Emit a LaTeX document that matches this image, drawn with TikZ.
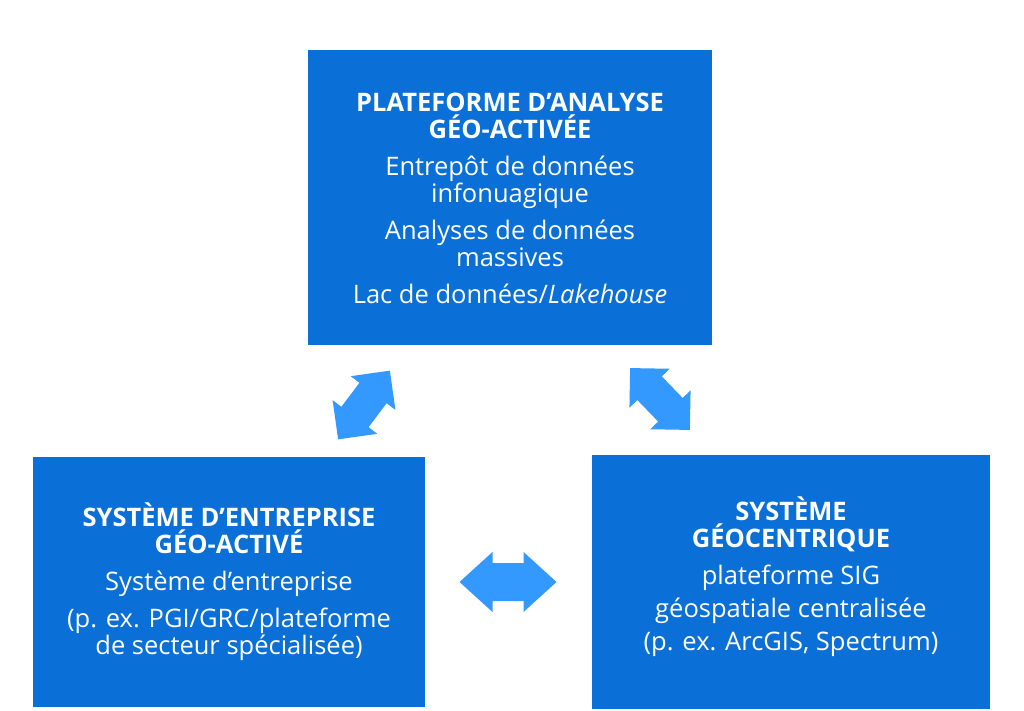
\documentclass[tikz,border=0pt]{standalone}
\usepackage{fontspec}
\setmainfont{Open Sans}
\definecolor{boxblue}{HTML}{0A6FD6}
\definecolor{arrblue}{HTML}{3399FF}
\tikzset{
  box/.style={fill=boxblue, draw=none},
  txt/.style={text=white, align=center, font=\fontsize{25.5}{27}\selectfont},
  arr/.style={fill=arrblue, draw=none}
}
\begin{document}
\begin{tikzpicture}[x=1pt,y=-1pt]
\useasboundingbox (0,0) rectangle (1024,711);
\fill[white] (0,0) rectangle (1024,711);
\path[box] (308,50) rectangle (712,345);
\path[box] (33,457) rectangle (425,707);
\path[box] (592,455) rectangle (990,709);
\node[txt] (t) at (510,198) {\textbf{PLATEFORME D’ANALYSE}\\ \textbf{GÉO-ACTIVÉE}\\[10pt]
Entrepôt de données\\ infonuagique\\[10pt] Analyses de données\\ massives\\[10pt] Lac de données/\textit{Lakehouse}};
\node[txt] (l) at (229,582) {\textbf{SYSTÈME D’ENTREPRISE}\\ \textbf{GÉO-ACTIVÉ}\\[10pt]
Système d’entreprise\\[10pt] (p. ex. PGI/GRC/plateforme\\ de secteur spécialisée)};
\node[txt] (r) at (791,577) {\textbf{SYSTÈME}\\ \textbf{GÉOCENTRIQUE}\\[10pt]
plateforme SIG\\[6pt] géospatiale centralisée\\[6pt] (p. ex. ArcGIS, Spectrum)};
\begin{scope}[shift={(364,405)}, rotate=53]
\path[arr] (-43,0)--(-15,-28)--(-15,-17)--(15,-17)--(15,-28)--(43,0)--(15,28)--(15,17)--(-15,17)--(-15,28)--cycle;
\end{scope}
\begin{scope}[shift={(660,399)}, rotate=-46]
\path[arr] (-43,0)--(-15,-28)--(-15,-17)--(15,-17)--(15,-28)--(43,0)--(15,28)--(15,17)--(-15,17)--(-15,28)--cycle;
\end{scope}
\begin{scope}[shift={(508,582)}]
\path[arr] (-48.5,0)--(-15.5,-30)--(-15.5,-19)--(15.5,-19)--(15.5,-30)--(48.5,0)--(15.5,30)--(15.5,19)--(-15.5,19)--(-15.5,30)--cycle;
\end{scope}
\end{tikzpicture}
\end{document}
